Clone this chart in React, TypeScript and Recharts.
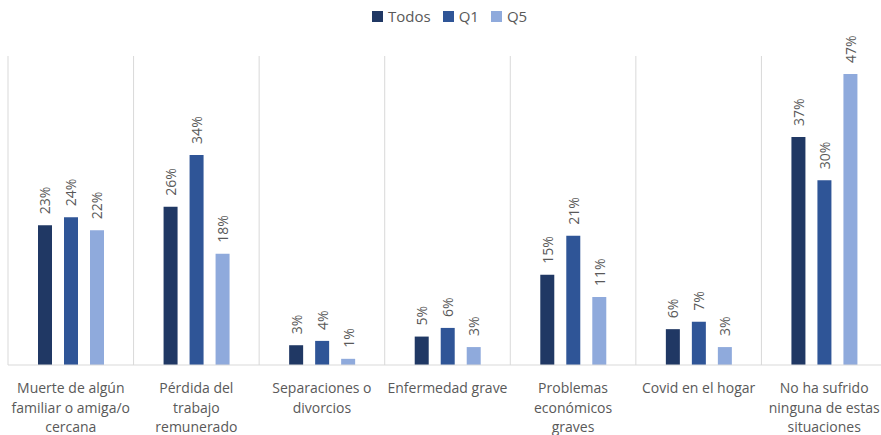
import { BarChart, Bar, XAxis, YAxis, CartesianGrid, LabelList } from 'recharts'

const categories = [
  'Muerte de algún\nfamiliar o amiga/o\ncercana',
  'Pérdida del\ntrabajo\nremunerado',
  'Separaciones o\ndivorcios',
  'Enfermedad grave',
  'Problemas\neconómicos\ngraves',
  'Covid en el hogar',
  'No ha sufrido\nninguna de estas\nsituaciones',
]
const todos = [22.6, 25.6, 3.2, 4.6, 14.6, 5.8, 36.9]
const q1 = [23.9, 34.0, 3.9, 6.0, 20.9, 7.0, 29.9]
const q5 = [21.8, 18.0, 1.0, 2.9, 11.0, 2.9, 47.1]

const series = [
  { key: 'Todos', color: '#203864', values: todos },
  { key: 'Q1', color: '#2F5597', values: q1 },
  { key: 'Q5', color: '#8FAADC', values: q5 },
]

const data = categories.map((c, i) => {
  const row: Record<string, string | number> = { name: c }
  series.forEach(s => { row[s.key] = s.values[i] })
  return row
})

const FONT = '"Open Sans", sans-serif'
const TXT = '#595959'

// separators between categories (band edges, not band centres)
const bandEdges = ({ offset }: any) =>
  Array.from({ length: categories.length + 1 }, (_, i) => offset.left + (i * offset.width) / categories.length)

const CatTick = ({ x, y, payload }: any) => {
  const lines = String(payload.value).split('\n')
  return (
    <text x={x} y={y} textAnchor="middle" fill={TXT} fontSize={14} fontFamily={FONT}>
      {lines.map((l, i) => (
        <tspan key={i} x={x} dy={i === 0 ? 20 : 19.5}>{l}</tspan>
      ))}
    </text>
  )
}

const ValueLabel = ({ x, y, width, value }: any) => {
  const cx = x + width / 2
  const cy = y - 11
  return (
    <text x={cx} y={cy} transform={`rotate(-90 ${cx} ${cy})`} textAnchor="start" dominantBaseline="central"
      fill={TXT} fontSize={14} fontFamily={FONT}>
      {Math.round(value)}%
    </text>
  )
}

export default function App() {
  return (
    <div style={{ position: 'absolute', left: 0, top: 0, width: 881, height: 435, overflow: 'hidden', background: '#fff' }}>
      <div style={{ position: 'absolute', top: 6, left: 372, display: 'flex', gap: 12 }}>
        {series.map(s => (
          <div key={s.key} style={{ display: 'flex', alignItems: 'center', gap: 5 }}>
            <div style={{ width: 11, height: 11, background: s.color }} />
            <span style={{ fontFamily: FONT, fontSize: 15, color: TXT }}>{s.key}</span>
          </div>
        ))}
      </div>
      <BarChart width={887} height={435} data={data} margin={{ top: 56, right: 0, left: 8, bottom: 0 }}
        barSize={14} barGap={12}>
        <CartesianGrid horizontal={false} stroke="#d9d9d9" verticalCoordinatesGenerator={bandEdges} />
        <XAxis dataKey="name" interval={0} height={70} tickLine={false} axisLine={{ stroke: '#d9d9d9' }} tick={<CatTick />} />
        <YAxis domain={[0, 50]} hide />
        {series.map(s => (
          <Bar key={s.key} dataKey={s.key} fill={s.color} isAnimationActive={false}>
            <LabelList dataKey={s.key} content={<ValueLabel />} />
          </Bar>
        ))}
      </BarChart>
    </div>
  )
}
